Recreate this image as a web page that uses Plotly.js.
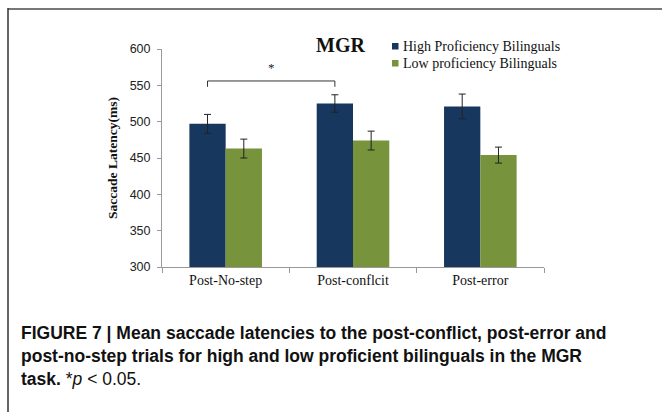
<!DOCTYPE html>
<html>
<head>
<meta charset="utf-8">
<script src="https://cdn.plot.ly/plotly-3.0.1.min.js"></script>
<style>
html,body{margin:0;padding:0;background:#fff;}
#chart{width:662px;height:412px;}
</style>
</head>
<body>
<div id="chart"></div>
<script>
var categories = ["Post-No-step", "Post-conflcit", "Post-error"];
var seriesNames = ["High Proficiency Bilinguals", "Low proficiency Bilinguals"];
var highValues = [497, 525, 521];
var highErrors = [13, 12, 17];
var lowValues = [463, 474, 454];
var lowErrors = [13, 13, 11];
var yTicks = [300, 350, 400, 450, 500, 550, 600];
var sigStar = "*";
var titleText = "MGR";
var yTitle = "Saccade Latency(ms)";
var captionLines = [
  "<b>FIGURE 7 | Mean saccade latencies to the post-conflict, post-error and</b>",
  "<b>post-no-step trials for high and low proficient bilinguals in the MGR</b>",
  "<b>task.</b> *<i>p</i> &lt; 0.05."
];

var W = 662, H = 412;
var L = 162, R = 544, T = 49, B = 267;
var PW = R - L, PH = B - T;
function px(x){ return (x - L) / PW; }
function py(y){ return 1 - (y - T) / PH; }

var navy = "#17375E", green = "#77933C";
var serif = "Liberation Serif, Times New Roman, serif";

var traces = [
  {type: "bar", x: categories, y: highValues, name: seriesNames[0],
   marker: {color: navy},
   error_y: {type: "data", array: highErrors, visible: true, color: "#222", thickness: 1, width: 3.5}},
  {type: "bar", x: categories, y: lowValues, name: seriesNames[1],
   marker: {color: green},
   error_y: {type: "data", array: lowErrors, visible: true, color: "#222", thickness: 1, width: 3.5}}
];

var bargap = 0.43;
var barW = (1 - bargap) / 2;
var blueOff = -barW / 2;
var brX0 = 0 + blueOff, brX1 = 1 + blueOff;
var brY = 556, brTick = 548;

var shapes = [
  {type: "line", xref: "x", yref: "y", x0: brX0, x1: brX1, y0: brY, y1: brY, line: {color: "#333", width: 1}},
  {type: "line", xref: "x", yref: "y", x0: brX0, x1: brX0, y0: brY, y1: brTick, line: {color: "#333", width: 1}},
  {type: "line", xref: "x", yref: "y", x0: brX1, x1: brX1, y0: brY, y1: brTick, line: {color: "#333", width: 1}},
  {type: "rect", xref: "paper", yref: "paper", x0: px(392), x1: px(398.5), y0: py(43), y1: py(49.5), fillcolor: navy, line: {width: 0}},
  {type: "rect", xref: "paper", yref: "paper", x0: px(392), x1: px(398.5), y0: py(60), y1: py(66.5), fillcolor: green, line: {width: 0}},
  {type: "line", xref: "paper", yref: "paper", x0: px(8), x1: px(662), y0: py(9), y1: py(9), line: {color: "#777", width: 2}},
  {type: "line", xref: "paper", yref: "paper", x0: px(8), x1: px(8), y0: py(8), y1: py(412), line: {color: "#333", width: 1.5}}
];

var annotations = [
  {xref: "x", yref: "y", x: (brX0 + brX1) / 2, y: brY + 5, text: sigStar, showarrow: false,
   font: {family: serif, size: 13, color: "#222"}, yanchor: "bottom"},
  {xref: "paper", yref: "paper", x: px(340), y: py(45), text: "<b>" + titleText + "</b>", showarrow: false,
   font: {family: serif, size: 20, color: "#111"}, xanchor: "center", yanchor: "middle"},
  {xref: "paper", yref: "paper", x: px(400.5), y: py(46.5), text: seriesNames[0], showarrow: false,
   font: {family: serif, size: 14, color: "#111"}, xanchor: "left", yanchor: "middle"},
  {xref: "paper", yref: "paper", x: px(400.5), y: py(63.5), text: seriesNames[1], showarrow: false,
   font: {family: serif, size: 14, color: "#111"}, xanchor: "left", yanchor: "middle"}
];
var capY = [333, 356, 379];
for (var i = 0; i < captionLines.length; i++) {
  annotations.push({xref: "paper", yref: "paper", x: px(19), y: py(capY[i]), text: captionLines[i], showarrow: false,
    font: {family: "Liberation Sans Narrow, Arial Narrow, Liberation Sans, sans-serif", size: 17.5, color: "#111"},
    xanchor: "left", yanchor: "middle", align: "left"});
}

var layout = {
  width: W, height: H,
  margin: {l: L, r: W - R, t: T, b: H - B, pad: 0},
  paper_bgcolor: "#fff", plot_bgcolor: "#fff",
  barmode: "group", bargap: bargap, bargroupgap: 0,
  showlegend: false,
  xaxis: {
    type: "category", showline: true, linecolor: "#999", linewidth: 1,
    ticks: "outside", tickson: "boundaries", ticklen: 5, tickcolor: "#999",
    showgrid: false, zeroline: false,
    tickfont: {family: serif, size: 14, color: "#111"}
  },
  yaxis: {
    range: [300, 600], tickvals: yTicks, showline: true, linecolor: "#999", linewidth: 1,
    ticks: "outside", ticklen: 4, tickcolor: "#999", showgrid: false, zeroline: false,
    ticklabelstandoff: 4,
    tickfont: {family: "Liberation Sans, Arial, sans-serif", size: 12.5, color: "#222"},
    title: {text: "<b>" + yTitle + "</b>", font: {family: serif, size: 13.5, color: "#111"}, standoff: 8}
  },
  shapes: shapes,
  annotations: annotations
};

Plotly.newPlot("chart", traces, layout, {displayModeBar: false, staticPlot: true});
</script>
</body>
</html>
